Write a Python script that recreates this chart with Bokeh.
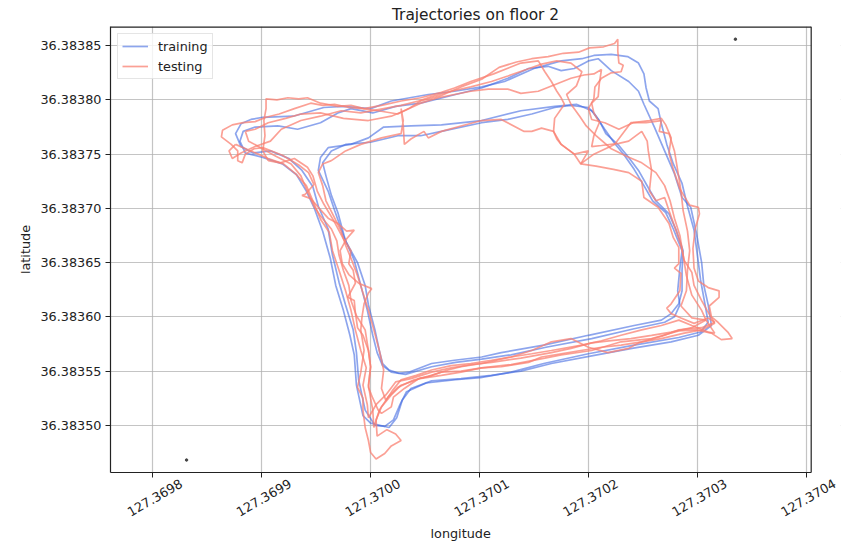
import math
from bokeh.plotting import figure
from bokeh.models import (FixedTicker, PrintfTickFormatter, CustomJSTickFormatter,
                          LinearAxis, Range1d, BoxAnnotation, Span, Title)
from bokeh.embed import file_html
from bokeh.resources import INLINE

# ---------------- data (longitude / latitude) ----------------
train_lon_1 = [127.369890, 127.369881, 127.369876, 127.369881, 127.369892, 127.369908, 127.369925, 127.369937,
               127.369947, 127.369952, 127.369961, 127.369965, 127.369971, 127.369977, 127.369984, 127.369987,
               127.369989, 127.369995, 127.370004, 127.370013, 127.370021, 127.370027, 127.370033, 127.370051,
               127.370078, 127.370101, 127.370129, 127.370159, 127.370200, 127.370242, 127.370283, 127.370303,
               127.370310, 127.370307, 127.370303, 127.370301, 127.370297, 127.370291, 127.370286, 127.370278,
               127.370272, 127.370267, 127.370264, 127.370256, 127.370253, 127.370251, 127.370246, 127.370236,
               127.370221, 127.370205, 127.370194, 127.370175, 127.370150, 127.370123, 127.370102, 127.370077,
               127.370053, 127.370019, 127.370000, 127.369975, 127.369957, 127.369929, 127.369901, 127.369890]
train_lat_1 = [36.383782, 36.383778, 36.383769, 36.383757, 36.383751, 36.383753, 36.383746, 36.383735,
               36.383720, 36.383702, 36.383681, 36.383657, 36.383632, 36.383611, 36.383588, 36.383567,
               36.383542, 36.383514, 36.383500, 36.383499, 36.383505, 36.383519, 36.383531, 36.383539,
               36.383542, 36.383544, 36.383549, 36.383557, 36.383566, 36.383574, 36.383581, 36.383586,
               36.383595, 36.383612, 36.383634, 36.383650, 36.383680, 36.383702, 36.383723, 36.383741,
               36.383759, 36.383778, 36.383792, 36.383799, 36.383811, 36.383824, 36.383834, 36.383840,
               36.383842, 36.383841, 36.383838, 36.383836, 36.383829, 36.383817, 36.383812, 36.383808,
               36.383805, 36.383799, 36.383792, 36.383794, 36.383793, 36.383785, 36.383784, 36.383782]

train_lon_2 = [127.369915, 127.369894, 127.369883, 127.369880, 127.369885, 127.369901, 127.369919, 127.369932,
               127.369941, 127.369948, 127.369956, 127.369963, 127.369968, 127.369975, 127.369981, 127.369985,
               127.369987, 127.369993, 127.370000, 127.370017, 127.370024, 127.370029, 127.370037, 127.370056,
               127.370083, 127.370111, 127.370138, 127.370166, 127.370203, 127.370240, 127.370276, 127.370301,
               127.370313, 127.370310, 127.370306, 127.370304, 127.370299, 127.370294, 127.370286, 127.370279,
               127.370270, 127.370261, 127.370251, 127.370246, 127.370237, 127.370221, 127.370209, 127.370200,
               127.370187, 127.370175, 127.370163, 127.370145, 127.370126, 127.370102, 127.370078, 127.370046,
               127.370023, 127.370002, 127.369982, 127.369970, 127.369954, 127.369933, 127.369915]
train_lat_2 = [36.383776, 36.383775, 36.383771, 36.383762, 36.383751, 36.383747, 36.383741, 36.383731,
               36.383716, 36.383701, 36.383679, 36.383654, 36.383629, 36.383606, 36.383583, 36.383565,
               36.383537, 36.383509, 36.383502, 36.383498, 36.383507, 36.383523, 36.383534, 36.383541,
               36.383543, 36.383546, 36.383550, 36.383557, 36.383564, 36.383571, 36.383577, 36.383583,
               36.383592, 36.383611, 36.383629, 36.383650, 36.383678, 36.383701, 36.383710, 36.383732,
               36.383753, 36.383774, 36.383796, 36.383808, 36.383817, 36.383827, 36.383838, 36.383836,
               36.383829, 36.383827, 36.383831, 36.383829, 36.383820, 36.383811, 36.383805, 36.383797,
               36.383794, 36.383788, 36.383792, 36.383788, 36.383779, 36.383773, 36.383776]

train_lon_3 = [127.370205, 127.370200, 127.370184, 127.370169, 127.370148, 127.370126, 127.370102, 127.370065,
               127.370046, 127.370025, 127.370000, 127.369977, 127.369964, 127.369956, 127.369959, 127.369964,
               127.369970, 127.369977, 127.369988, 127.369995, 127.369998, 127.370004, 127.370008, 127.370011,
               127.370017, 127.370026, 127.370035, 127.370056, 127.370077, 127.370102, 127.370120, 127.370159,
               127.370200, 127.370242, 127.370267, 127.370276, 127.370283, 127.370286, 127.370286, 127.370287,
               127.370281, 127.370274, 127.370262, 127.370255, 127.370246, 127.370237, 127.370228, 127.370216,
               127.370210, 127.370205]
train_lat_3 = [36.383788, 36.383793, 36.383795, 36.383793, 36.383787, 36.383782, 36.383779, 36.383771,
               36.383767, 36.383767, 36.383761, 36.383759, 36.383753, 36.383742, 36.383730, 36.383712,
               36.383696, 36.383670, 36.383650, 36.383629, 36.383611, 36.383588, 36.383569, 36.383557,
               36.383551, 36.383548, 36.383549, 36.383557, 36.383560, 36.383563, 36.383567, 36.383574,
               36.383583, 36.383592, 36.383597, 36.383603, 36.383612, 36.383624, 36.383643, 36.383661,
               36.383679, 36.383695, 36.383707, 36.383719, 36.383735, 36.383747, 36.383758, 36.383769,
               36.383781, 36.383788]

train_lon_4 = [127.370209, 127.370203, 127.370189, 127.370169, 127.370138, 127.370102, 127.370065, 127.370037,
               127.370012, 127.369998, 127.369982, 127.369961, 127.369954, 127.369952, 127.369961, 127.369967,
               127.369975, 127.369985, 127.369991, 127.369997, 127.370002, 127.370006, 127.370011, 127.370019,
               127.370032, 127.370056, 127.370078, 127.370102, 127.370129, 127.370161, 127.370203, 127.370242,
               127.370270, 127.370279, 127.370284, 127.370282, 127.370284, 127.370286, 127.370278, 127.370271,
               127.370259, 127.370251, 127.370242, 127.370233, 127.370224, 127.370215, 127.370209]
train_lat_4 = [36.383782, 36.383790, 36.383796, 36.383794, 36.383790, 36.383781, 36.383777, 36.383776,
               36.383775, 36.383765, 36.383759, 36.383756, 36.383747, 36.383735, 36.383716, 36.383698,
               36.383675, 36.383652, 36.383629, 36.383606, 36.383583, 36.383567, 36.383555, 36.383549,
               36.383547, 36.383554, 36.383558, 36.383561, 36.383565, 36.383572, 36.383580, 36.383589,
               36.383595, 36.383600, 36.383611, 36.383624, 36.383645, 36.383661, 36.383681, 36.383696,
               36.383707, 36.383721, 36.383736, 36.383749, 36.383760, 36.383773, 36.383782]

test_lon_1 = [127.369901, 127.369893, 127.369885, 127.369882, 127.369878, 127.369878, 127.369872, 127.369863,
              127.369864, 127.369873, 127.369883, 127.369894, 127.369904, 127.369916, 127.369930, 127.369945,
              127.369956, 127.369967, 127.369980, 127.369993, 127.370007, 127.370025, 127.370035, 127.370046,
              127.370065, 127.370083, 127.370102, 127.370118, 127.370134, 127.370148, 127.370163, 127.370177,
              127.370191, 127.370201, 127.370214, 127.370224, 127.370227, 127.370227, 127.370228, 127.370232,
              127.370230, 127.370221, 127.370212, 127.370206, 127.370205, 127.370200, 127.370203, 127.370215,
              127.370228, 127.370241, 127.370256, 127.370267, 127.370271, 127.370276, 127.370274, 127.370278,
              127.370284, 127.370293, 127.370301, 127.370302, 127.370298, 127.370296, 127.370297, 127.370301,
              127.370310, 127.370320, 127.370320, 127.370311, 127.370313, 127.370319, 127.370328, 127.370332,
              127.370322, 127.370313, 127.370299, 127.370283, 127.370258, 127.370230, 127.370203, 127.370175,
              127.370160, 127.370129, 127.370102, 127.370083, 127.370065, 127.370045, 127.370028, 127.370019,
              127.370010, 127.370005, 127.370006, 127.370015, 127.370023, 127.370028, 127.370019, 127.370013,
              127.370005, 127.370000, 127.369998, 127.369995, 127.369993, 127.369993, 127.369988, 127.369991,
              127.369994, 127.369991, 127.369992, 127.369994, 127.369998, 127.370001, 127.369989, 127.369980,
              127.369974, 127.369972, 127.369978, 127.369985, 127.369978, 127.369970, 127.369961, 127.369952,
              127.369945, 127.369937, 127.369940, 127.369948, 127.369943, 127.369934, 127.369919, 127.369901]
test_lat_1 = [36.383756, 36.383755, 36.383750, 36.383742, 36.383744, 36.383753, 36.383759, 36.383766,
              36.383772, 36.383777, 36.383779, 36.383780, 36.383784, 36.383787, 36.383792, 36.383797,
              36.383795, 36.383796, 36.383793, 36.383792, 36.383790, 36.383787, 36.383792, 36.383799,
              36.383804, 36.383812, 36.383819, 36.383830, 36.383835, 36.383838, 36.383840, 36.383843,
              36.383844, 36.383848, 36.383849, 36.383852, 36.383856, 36.383845, 36.383834, 36.383832,
              36.383826, 36.383825, 36.383820, 36.383812, 36.383801, 36.383792, 36.383782, 36.383779,
              36.383773, 36.383779, 36.383781, 36.383783, 36.383777, 36.383765, 36.383751, 36.383736,
              36.383718, 36.383703, 36.383701, 36.383695, 36.383681, 36.383663, 36.383645, 36.383633,
              36.383627, 36.383624, 36.383618, 36.383610, 36.383600, 36.383595, 36.383586, 36.383580,
              36.383579, 36.383585, 36.383588, 36.383587, 36.383580, 36.383577, 36.383569, 36.383565,
              36.383562, 36.383556, 36.383553, 36.383549, 36.383546, 36.383543, 36.383537, 36.383528,
              36.383517, 36.383505, 36.383490, 36.383496, 36.383492, 36.383486, 36.383481, 36.383474,
              36.383469, 36.383475, 36.383486, 36.383498, 36.383514, 36.383525, 36.383535, 36.383549,
              36.383569, 36.383588, 36.383599, 36.383612, 36.383622, 36.383626, 36.383631, 36.383639,
              36.383649, 36.383661, 36.383672, 36.383680, 36.383679, 36.383686, 36.383691, 36.383701,
              36.383709, 36.383712, 36.383713, 36.383722, 36.383733, 36.383740, 36.383749, 36.383756]

test_lon_2 = [127.369906, 127.369901, 127.369903, 127.369902, 127.369904, 127.369904, 127.369914, 127.369924,
              127.369934, 127.369942, 127.369954, 127.369970, 127.369982, 127.369994, 127.370010, 127.370028,
              127.370046, 127.370065, 127.370077, 127.370092, 127.370113, 127.370138, 127.370154, 127.370160,
              127.370166, 127.370171, 127.370175, 127.370178, 127.370169, 127.370168, 127.370171, 127.370175,
              127.370187, 127.370200, 127.370193, 127.370207, 127.370223, 127.370237, 127.370249, 127.370251,
              127.370264, 127.370274, 127.370278, 127.370283, 127.370283, 127.370279, 127.370285, 127.370284,
              127.370276, 127.370272, 127.370276, 127.370285, 127.370297, 127.370310, 127.370316, 127.370304,
              127.370283, 127.370267, 127.370246, 127.370237, 127.370218, 127.370200, 127.370184, 127.370166,
              127.370148, 127.370129, 127.370102, 127.370083, 127.370071, 127.370056, 127.370044, 127.370031,
              127.370021, 127.370019, 127.370010, 127.370007, 127.370002, 127.369998, 127.370000, 127.369998,
              127.369993, 127.369988, 127.369986, 127.369985, 127.369979, 127.369986, 127.369984, 127.369980,
              127.369982, 127.369975, 127.369966, 127.369957, 127.369951, 127.369947, 127.369942, 127.369930,
              127.369917, 127.369906]
test_lat_2 = [36.383744, 36.383753, 36.383767, 36.383781, 36.383792, 36.383801, 36.383800, 36.383802,
              36.383801, 36.383802, 36.383797, 36.383794, 36.383795, 36.383792, 36.383795, 36.383799,
              36.383802, 36.383807, 36.383811, 36.383817, 36.383824, 36.383834, 36.383836, 36.383826,
              36.383817, 36.383808, 36.383802, 36.383796, 36.383783, 36.383771, 36.383764, 36.383759,
              36.383750, 36.383753, 36.383741, 36.383739, 36.383736, 36.383733, 36.383725, 36.383710,
              36.383701, 36.383686, 36.383673, 36.383664, 36.383649, 36.383645, 36.383640, 36.383624,
              36.383612, 36.383608, 36.383603, 36.383599, 36.383594, 36.383599, 36.383595, 36.383590,
              36.383588, 36.383582, 36.383576, 36.383571, 36.383567, 36.383572, 36.383580, 36.383577,
              36.383569, 36.383563, 36.383557, 36.383554, 36.383551, 36.383546, 36.383543, 36.383534,
              36.383526, 36.383517, 36.383511, 36.383514, 36.383525, 36.383535, 36.383554, 36.383569,
              36.383583, 36.383590, 36.383604, 36.383615, 36.383618, 36.383631, 36.383643, 36.383649,
              36.383661, 36.383672, 36.383689, 36.383704, 36.383716, 36.383730, 36.383738, 36.383746,
              36.383742, 36.383744]

test_lon_3 = [127.369885, 127.369894, 127.369906, 127.369922, 127.369936, 127.369954, 127.369975, 127.369998,
              127.370019, 127.370031, 127.370046, 127.370062, 127.370077, 127.370092, 127.370108, 127.370126,
              127.370138, 127.370154, 127.370169, 127.370184, 127.370196, 127.370205, 127.370212, 127.370210,
              127.370209, 127.370203, 127.370205, 127.370210, 127.370205, 127.370203, 127.370212, 127.370228,
              127.370237, 127.370249, 127.370254, 127.370255, 127.370258, 127.370256, 127.370262, 127.370270,
              127.370274, 127.370280, 127.370285, 127.370288, 127.370295, 127.370297, 127.370304, 127.370309,
              127.370316, 127.370304, 127.370288, 127.370267, 127.370249, 127.370230, 127.370212, 127.370193,
              127.370175, 127.370157, 127.370145, 127.370120, 127.370102, 127.370083, 127.370065, 127.370053,
              127.370040, 127.370025, 127.370016, 127.370008, 127.370003, 127.370002, 127.370000, 127.369998,
              127.370000, 127.369998, 127.369995, 127.369987, 127.369982, 127.369980, 127.369975, 127.369971,
              127.369969, 127.369964, 127.369954, 127.369948, 127.369941, 127.369936, 127.369927, 127.369913,
              127.369899, 127.369888, 127.369885]
test_lat_3 = [36.383771, 36.383773, 36.383779, 36.383783, 36.383787, 36.383788, 36.383783, 36.383781,
              36.383785, 36.383790, 36.383797, 36.383802, 36.383805, 36.383808, 36.383810, 36.383810,
              36.383806, 36.383808, 36.383814, 36.383820, 36.383823, 36.383824, 36.383828, 36.383815,
              36.383803, 36.383797, 36.383788, 36.383779, 36.383767, 36.383757, 36.383758, 36.383760,
              36.383762, 36.383771, 36.383762, 36.383753, 36.383735, 36.383716, 36.383707, 36.383710,
              36.383698, 36.383681, 36.383666, 36.383652, 36.383641, 36.383629, 36.383615, 36.383606,
              36.383594, 36.383588, 36.383585, 36.383580, 36.383577, 36.383574, 36.383572, 36.383569,
              36.383566, 36.383563, 36.383558, 36.383554, 36.383553, 36.383550, 36.383549, 36.383545,
              36.383542, 36.383535, 36.383526, 36.383514, 36.383498, 36.383514, 36.383525, 36.383537,
              36.383554, 36.383569, 36.383588, 36.383601, 36.383615, 36.383629, 36.383643, 36.383657,
              36.383670, 36.383681, 36.383693, 36.383702, 36.383718, 36.383730, 36.383741, 36.383748,
              36.383756, 36.383762, 36.383771]

test_lon_4 = [127.369964, 127.369977, 127.369991, 127.370010, 127.370028, 127.370030, 127.370028, 127.370030,
              127.370031, 127.370037, 127.370049, 127.370053, 127.370065, 127.370083, 127.370102, 127.370120,
              127.370141, 127.370148, 127.370157, 127.370168, 127.370175, 127.370187, 127.370193, 127.370205,
              127.370224, 127.370239, 127.370253, 127.370267, 127.370265, 127.370274, 127.370279, 127.370282,
              127.370285, 127.370287, 127.370291, 127.370293, 127.370291, 127.370290, 127.370285, 127.370295,
              127.370308, 127.370316, 127.370310, 127.370295, 127.370283, 127.370267, 127.370249, 127.370230,
              127.370212, 127.370194, 127.370166, 127.370148, 127.370129, 127.370111, 127.370092, 127.370074,
              127.370056, 127.370042, 127.370028, 127.370020, 127.370014, 127.370010, 127.370012, 127.370008,
              127.370003, 127.369998, 127.369993, 127.369988, 127.369982, 127.369977, 127.369973, 127.369966,
              127.369959, 127.369956, 127.369952, 127.369956, 127.369964]
test_lat_4 = [36.383744, 36.383753, 36.383759, 36.383765, 36.383769, 36.383781, 36.383792, 36.383776,
              36.383759, 36.383764, 36.383771, 36.383765, 36.383771, 36.383776, 36.383781, 36.383782,
              36.383771, 36.383771, 36.383774, 36.383771, 36.383759, 36.383750, 36.383741, 36.383750,
              36.383759, 36.383779, 36.383779, 36.383781, 36.383771, 36.383769, 36.383753, 36.383735,
              36.383716, 36.383698, 36.383679, 36.383661, 36.383643, 36.383624, 36.383610, 36.383599,
              36.383597, 36.383585, 36.383586, 36.383592, 36.383597, 36.383592, 36.383588, 36.383583,
              36.383578, 36.383574, 36.383569, 36.383566, 36.383563, 36.383560, 36.383557, 36.383555,
              36.383551, 36.383546, 36.383542, 36.383532, 36.383523, 36.383534, 36.383551, 36.383569,
              36.383588, 36.383606, 36.383622, 36.383638, 36.383654, 36.383666, 36.383679, 36.383693,
              36.383707, 36.383721, 36.383733, 36.383741, 36.383744]

test_lon_5 = [127.369876, 127.369870, 127.369873, 127.369881, 127.369894, 127.369908, 127.369918, 127.369936,
              127.369954, 127.369973, 127.369991, 127.370012, 127.370028, 127.370044, 127.370056, 127.370074,
              127.370092, 127.370111, 127.370126, 127.370143, 127.370157, 127.370171, 127.370184, 127.370194,
              127.370189, 127.370180, 127.370184, 127.370192, 127.370198, 127.370207, 127.370221, 127.370235,
              127.370249, 127.370262, 127.370270, 127.370275, 127.370279, 127.370284, 127.370287, 127.370290,
              127.370295, 127.370304, 127.370308, 127.370295, 127.370276, 127.370258, 127.370239, 127.370221,
              127.370203, 127.370184, 127.370166, 127.370138, 127.370111, 127.370092, 127.370074, 127.370056,
              127.370037, 127.370023, 127.370014, 127.370005, 127.369998, 127.369997, 127.369993, 127.369996,
              127.369991, 127.369986, 127.369982, 127.369977, 127.369971, 127.369965, 127.369962, 127.369954,
              127.369947, 127.369941, 127.369931, 127.369920, 127.369906, 127.369890, 127.369876]
test_lat_5 = [36.383759, 36.383753, 36.383746, 36.383751, 36.383757, 36.383762, 36.383773, 36.383781,
              36.383785, 36.383790, 36.383788, 36.383792, 36.383795, 36.383799, 36.383803, 36.383808,
              36.383812, 36.383817, 36.383822, 36.383828, 36.383833, 36.383836, 36.383834, 36.383826,
              36.383813, 36.383805, 36.383796, 36.383785, 36.383776, 36.383767, 36.383755, 36.383748,
              36.383742, 36.383733, 36.383721, 36.383707, 36.383691, 36.383675, 36.383657, 36.383638,
              36.383620, 36.383606, 36.383597, 36.383590, 36.383586, 36.383583, 36.383580, 36.383578,
              36.383576, 36.383571, 36.383567, 36.383562, 36.383558, 36.383556, 36.383553, 36.383549,
              36.383543, 36.383540, 36.383528, 36.383519, 36.383507, 36.383519, 36.383537, 36.383553,
              36.383569, 36.383588, 36.383606, 36.383624, 36.383643, 36.383661, 36.383678, 36.383690,
              36.383707, 36.383721, 36.383732, 36.383741, 36.383746, 36.383753, 36.383759]

corner_lon = [127.369831, 127.370335]
corner_lat = [36.383468, 36.383856]

x_ticks = [127.3698, 127.3699, 127.3700, 127.3701, 127.3702, 127.3703, 127.3704]
x_tick_labels = ["127.3698", "127.3699", "127.3700", "127.3701", "127.3702", "127.3703", "127.3704"]
y_ticks = [36.38350, 36.38355, 36.38360, 36.38365, 36.38370, 36.38375, 36.38380, 36.38385]

train_xs = [train_lon_1, train_lon_2, train_lon_3, train_lon_4]
train_ys = [train_lat_1, train_lat_2, train_lat_3, train_lat_4]
test_xs = [test_lon_1, test_lon_2, test_lon_3, test_lon_4, test_lon_5]
test_ys = [test_lat_1, test_lat_2, test_lat_3, test_lat_4, test_lat_5]

# ---------------- figure ----------------
FONT = "DejaVu Sans"
TXT = "#222222"
PX = 1089000.0                      # pixels per degree (both axes, approx.)
x0 = 127.36976116                   # visible axes box: left edge
x_vis = 127.37040459                # visible axes box: right edge
x_end = x0 + 730 / PX               # frame extended right so the last rotated label fits
y0, y1 = 36.3834565, 36.3838677

p = figure(width=846, height=541, output_backend="svg", toolbar_location=None,
           x_range=Range1d(x0, x_end), y_range=Range1d(y0, y1),
           min_border_left=110, min_border_right=6, min_border_top=25, min_border_bottom=68)
p.background_fill_color = "white"
p.border_fill_color = "white"
p.outline_line_color = None

p.title.text = "Trajectories on floor 2"
p.title.align = "center"
p.title.offset = -17
p.title.text_font = FONT
p.title.text_font_size = "15.4px"
p.title.text_font_style = "normal"
p.title.text_color = TXT
p.title.standoff = 6

xt = FixedTicker(ticks=x_ticks, minor_ticks=[])
yt = FixedTicker(ticks=y_ticks, minor_ticks=[])
p.xaxis.ticker = xt
p.yaxis.ticker = yt
p.xgrid.ticker = xt
p.ygrid.ticker = yt
p.grid.grid_line_color = "#b0b0b0"
p.grid.grid_line_alpha = 0.75
p.grid.grid_line_width = 1.2

p.multi_line(xs=train_xs, ys=train_ys, line_color="#4169e1", line_alpha=0.6,
             line_width=1.7, legend_label="training")
p.multi_line(xs=test_xs, ys=test_ys, line_color="#fa8072", line_alpha=0.75,
             line_width=1.7, legend_label="testing")
p.scatter(x=corner_lon, y=corner_lat, size=2.5, color="#444444")

# white mask right of the visible axes box, then the box's top and right spines
p.add_layout(BoxAnnotation(left=x_vis, right=x_end, bottom=y0, top=y1,
                           fill_color="white", fill_alpha=1.0, line_color=None))
p.add_layout(Span(location=x_vis, dimension="height", line_color=TXT, line_width=1.2))
p.segment(x0=[x0], y0=[y1], x1=[x_vis], y1=[y1], line_color=TXT, line_width=2.4)

p.yaxis.formatter = PrintfTickFormatter(format="%.5f")
p.xaxis.formatter = CustomJSTickFormatter(code="return ''")
p.xaxis.major_label_standoff = 0
p.xaxis.bounds = (x0, x_vis)

# label-only x axis: rotated tick labels shifted so each is centred under its tick
SHIFT = 28.6 / PX
p.extra_x_ranges = {"lab": Range1d(x0 - SHIFT, x_end - SHIFT)}
lab_axis = LinearAxis(x_range_name="lab",
                      ticker=FixedTicker(ticks=x_ticks, minor_ticks=[]),
                      formatter=CustomJSTickFormatter(args=dict(labels=x_tick_labels),
                                                      code="return labels[index];"),
                      major_label_orientation=math.radians(30))
lab_axis.axis_line_color = None
lab_axis.major_tick_line_color = None
lab_axis.minor_tick_line_color = None
lab_axis.major_tick_in = 0
lab_axis.major_tick_out = 0
lab_axis.major_label_standoff = 5
p.add_layout(lab_axis, "below")

# x-axis title, placed under the centre of the visible axes box
p.add_layout(Title(text="longitude", align="left", offset=320, standoff=1,
                   text_font=FONT, text_font_size="12.8px", text_font_style="normal",
                   text_color=TXT), "below")

for ax in (p.xaxis + p.yaxis):
    ax.major_label_text_font = FONT
    ax.major_label_text_font_size = "12.8px"
    ax.major_label_text_color = TXT
    ax.axis_label_text_font = FONT
    ax.axis_label_text_font_size = "12.8px"
    ax.axis_label_text_font_style = "normal"
    ax.axis_label_text_color = TXT

for ax in (p.below[0], p.yaxis[0]):
    ax.axis_line_color = TXT
    ax.axis_line_width = 1.2
    ax.major_tick_in = 0
    ax.major_tick_out = 5
    ax.major_tick_line_color = TXT
    ax.major_tick_line_width = 1
    ax.minor_tick_line_color = None

p.yaxis.major_label_standoff = 4
p.yaxis.axis_label = "latitude"
p.yaxis.axis_label_standoff = 4

lg = p.legend[0]
lg.location = "top_left"
lg.margin = 7
lg.padding = 4
lg.spacing = 4
lg.glyph_width = 26
lg.glyph_height = 16
lg.label_height = 16
lg.label_standoff = 10
lg.label_text_font = FONT
lg.label_text_font_size = "12.8px"
lg.label_text_color = TXT
lg.border_line_color = "#cccccc"
lg.border_line_width = 1
lg.background_fill_alpha = 0.8

open("out.html", "w").write(file_html(p, INLINE, "Trajectories on floor 2"))
